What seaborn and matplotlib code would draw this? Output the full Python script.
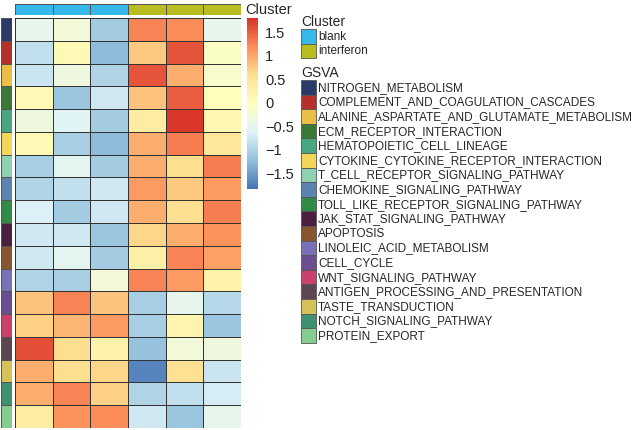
import numpy as np
import pandas as pd
import matplotlib
matplotlib.use("Agg")
import matplotlib.pyplot as plt
import seaborn as sns
from matplotlib.colors import LinearSegmentedColormap, ListedColormap
from matplotlib.patches import Rectangle

# -----------------------------------------------------------
# DATA
# -----------------------------------------------------------
pathways = [
    "NITROGEN_METABOLISM", "COMPLEMENT_AND_COAGULATION_CASCADES",
    "ALANINE_ASPARTATE_AND_GLUTAMATE_METABOLISM", "ECM_RECEPTOR_INTERACTION",
    "HEMATOPOIETIC_CELL_LINEAGE", "CYTOKINE_CYTOKINE_RECEPTOR_INTERACTION",
    "T_CELL_RECEPTOR_SIGNALING_PATHWAY", "CHEMOKINE_SIGNALING_PATHWAY",
    "TOLL_LIKE_RECEPTOR_SIGNALING_PATHWAY", "JAK_STAT_SIGNALING_PATHWAY",
    "APOPTOSIS", "LINOLEIC_ACID_METABOLISM", "CELL_CYCLE",
    "WNT_SIGNALING_PATHWAY", "ANTIGEN_PROCESSING_AND_PRESENTATION",
    "TASTE_TRANSDUCTION", "NOTCH_SIGNALING_PATHWAY", "PROTEIN_EXPORT",
]
pathway_colors = [
    "#2C3A6A", "#B5302B", "#EBBE45", "#3B7A36", "#47A781", "#F2D65A",
    "#8ED2B2", "#5D84B1", "#2F8B46", "#4A1F3F", "#895531", "#7A70B6",
    "#6A4E90", "#C9416C", "#5B4652", "#D5C159", "#3F9172", "#86CB8F",
]
samples = ["blank_1", "blank_2", "blank_3", "ifn_1", "ifn_2", "ifn_3"]
sample_cluster = ["blank", "blank", "blank", "interferon", "interferon", "interferon"]
clusters = ["blank", "interferon"]
cluster_colors = ["#36B9E8", "#BABD1F"]

scores = [
    [-0.50, -0.30, -1.10, 1.25, 1.20, -0.50],
    [-0.85, 0.10, -1.25, 0.75, 1.55, -0.10],
    [-0.80, -0.35, -1.00, 1.55, 0.95, -0.15],
    [0.10, -1.15, -0.75, 0.80, 1.50, 0.00],
    [-0.35, -0.60, -1.10, 0.35, 1.75, 0.15],
    [0.10, -1.05, -1.25, 0.95, 1.30, 0.45],
    [-1.05, -0.55, -1.10, 0.95, 0.60, 1.30],
    [-1.00, -0.85, -0.75, 1.10, 0.75, 1.10],
    [-0.65, -1.10, -0.75, 0.95, 0.60, 1.30],
    [-0.75, -0.75, -1.15, 0.65, 0.95, 1.15],
    [-0.75, -0.55, -1.10, 0.30, 1.25, 1.05],
    [-1.00, -1.05, -0.30, 1.25, 1.10, 0.25],
    [0.80, 1.25, 0.80, -1.05, -0.50, -0.95],
    [0.70, 0.90, 1.10, -1.05, 0.20, -1.15],
    [1.60, 0.60, 0.25, -1.20, -0.30, -0.35],
    [0.95, 0.60, 0.65, -1.70, 0.55, -0.80],
    [0.95, 1.25, 0.70, -1.00, -0.85, -0.70],
    [0.35, 1.15, 1.20, -0.75, -1.15, -0.50],
]
cbar_ticks = [-1.5, -1, -0.5, 0, 0.5, 1, 1.5]

df = pd.DataFrame(scores, index=pathways, columns=samples)

# -----------------------------------------------------------
# FIGURE
# -----------------------------------------------------------
sns.set_style("white")
plt.rcParams["font.family"] = ["Liberation Sans", "DejaVu Sans"]

W, H = 641, 430
fig = plt.figure(figsize=(W / 100, H / 100), dpi=100)


def px_axes(x0, y0, x1, y1):
    return fig.add_axes([x0 / W, 1 - y1 / H, (x1 - x0) / W, (y1 - y0) / H])


cmap = LinearSegmentedColormap.from_list(
    "rdylbu7", ["#4575B4", "#91BFDB", "#E0F3F8", "#FFFFBF", "#FEE090", "#FC8D59", "#D73027"]
)
grid_col = "#333333"

ax = px_axes(15, 18, 241, 428)
cax = px_axes(247, 18, 258, 189)
sns.heatmap(df, ax=ax, cmap=cmap, vmin=-1.84, vmax=1.80, linewidths=0.6,
            linecolor=grid_col, cbar_ax=cax, xticklabels=False, yticklabels=False)
ax.set_xlabel("")
ax.set_ylabel("")
cax.set_yticks(cbar_ticks)
cax.set_yticklabels([f"{t:g}".replace("-", "\u2212") for t in cbar_ticks])
cax.tick_params(length=0, labelsize=10.5, pad=5)
for s in cax.spines.values():
    s.set_visible(False)

# column annotation
ax_col = px_axes(15, 4, 241, 15)
col_codes = pd.DataFrame([[clusters.index(c) for c in sample_cluster]], columns=samples)
sns.heatmap(col_codes, ax=ax_col, cmap=ListedColormap(cluster_colors), vmin=-0.5, vmax=1.5,
            cbar=False, linewidths=0.6, linecolor="#555555", xticklabels=False, yticklabels=False)
ax_col.set_xlabel("")
ax_col.set_ylabel("")
fig.text(245 / W, 1 - 10 / H, "Cluster", fontsize=10.5, va="center", ha="left")

# row annotation
ax_row = px_axes(1, 18, 12, 428)
row_codes = pd.DataFrame({"GSVA": range(len(pathways))}, index=pathways)
sns.heatmap(row_codes, ax=ax_row, cmap=ListedColormap(pathway_colors), vmin=-0.5,
            vmax=len(pathways) - 0.5, cbar=False, linewidths=0.6, linecolor="#555555",
            xticklabels=False, yticklabels=False)
ax_row.set_xlabel("")
ax_row.set_ylabel("")

# legends
lax = px_axes(0, 0, W, H)
lax.set_xlim(0, W)
lax.set_ylim(H, 0)
lax.axis("off")

bx, bw, bh = 301, 15, 14.6
fs = 8.5


def legend_block(title, labels, colors, y_title, y_first):
    lax.text(bx, y_title, title, fontsize=10, va="center", ha="left")
    for i, (lab, col) in enumerate(zip(labels, colors)):
        y = y_first + i * bh
        lax.add_patch(Rectangle((bx, y), bw, bh, facecolor=col, edgecolor="#555555", lw=0.6))
        lax.text(bx + bw + 2, y + bh / 2 + 0.5, lab, fontsize=fs, va="center", ha="left")


legend_block("Cluster", clusters, cluster_colors, 22, 29)
legend_block("GSVA", pathways, pathway_colors, 73, 80)

fig.savefig("out.png", dpi=100)
